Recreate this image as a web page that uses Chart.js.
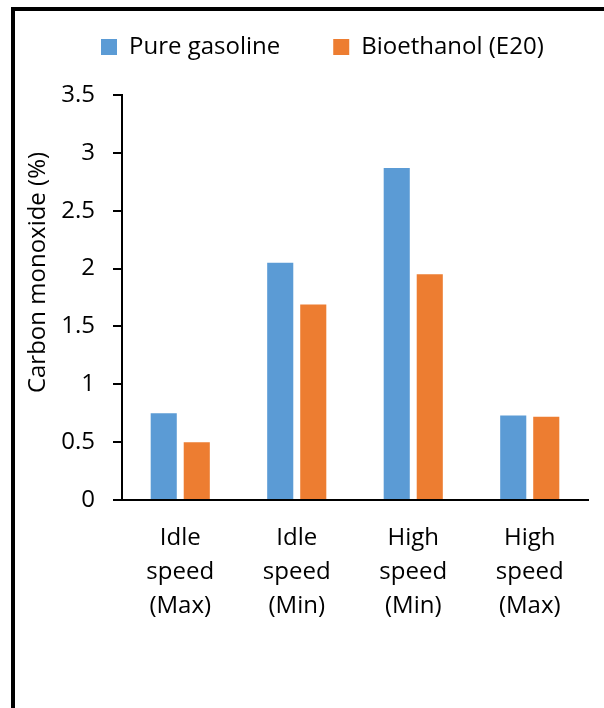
<!DOCTYPE html>
<html>
<head>
<meta charset="utf-8">
<script src="https://cdn.jsdelivr.net/npm/chart.js@4.4.1/dist/chart.umd.min.js"></script>
<style>
  html, body { margin: 0; padding: 0; background: #ffffff; overflow: hidden; }
  #frame { position: absolute; left: 11px; top: 7px; width: 700px; height: 800px;
           border-left: 4px solid #000; border-top: 4px solid #000; box-sizing: border-box; }
  #wrap { position: absolute; left: 0; top: 0; width: 604px; height: 708px; }
</style>
</head>
<body>
<div id="frame"></div>
<div id="wrap"><canvas id="c" width="604" height="708"></canvas></div>
<script>
// ---- data ----
const categories = [
  ["Idle", "speed", "(Max)"],
  ["Idle", "speed", "(Min)"],
  ["High", "speed", "(Min)"],
  ["High", "speed", "(Max)"]
];
const seriesNames = ["Pure gasoline", "Bioethanol (E20)"];
const pureGasoline = [0.75, 2.05, 2.87, 0.73];
const bioethanolE20 = [0.50, 1.69, 1.95, 0.72];
const yTickValues = [0, 0.5, 1, 1.5, 2, 2.5, 3, 3.5];
const yTickLabels = ["0", "0.5", "1", "1.5", "2", "2.5", "3", "3.5"];
const yAxisTitle = "Carbon monoxide (%)";

// ---- styling ----
const FONT = "'Open Sans', 'Liberation Sans', sans-serif";
const FS = 24;
const BLUE = "#5B9BD5";
const ORANGE = "#ED7D31";
const PAD_RIGHT = 16;
const PLOT_TOP = 95;
const PLOT_LEFT = 122;
const PLOT_BOTTOM = 500;
const LEGEND_PAD = 53;
const LEGEND_FIRST_BOX_X = 101;
const LEGEND_CENTER_Y = 47;

const legendFitPlugin = {
  id: 'legendFit',
  beforeUpdate(chart) {
    const lg = chart.legend;
    if (lg && !lg._patched) {
      const orig = lg.fit;
      lg.fit = function () {
        const mw = this.maxWidth;
        this.maxWidth = 4000;
        orig.call(this);
        this.maxWidth = mw;
        this.width = mw;
        this.height = PLOT_TOP;
      };
      lg._patched = true;
    }
  },
  afterLayout(chart) {
    const lg = chart.legend;
    if (!lg) return;
    lg.left = LEGEND_FIRST_BOX_X - LEGEND_PAD;
    lg.right = chart.width;
    lg.width = lg.right - lg.left;
    lg.top = LEGEND_CENTER_Y - LEGEND_PAD - FS / 2;
    lg.bottom = lg.top + lg.height;
  }
};

const yTitlePlugin = {
  id: 'yTitle',
  afterDraw(chart) {
    const ctx = chart.ctx;
    const ca = chart.chartArea;
    ctx.save();
    ctx.translate(38, ca.top + (ca.bottom - ca.top) / 2 - 25);
    ctx.rotate(-Math.PI / 2);
    ctx.font = FS + "px " + FONT;
    ctx.fillStyle = "#000";
    ctx.textAlign = "center";
    ctx.textBaseline = "middle";
    ctx.fillText(yAxisTitle, 0, 0);
    ctx.restore();
  }
};

new Chart(document.getElementById('c'), {
  type: 'bar',
  data: {
    labels: categories,
    datasets: [
      { label: seriesNames[0], data: pureGasoline, backgroundColor: BLUE, borderWidth: 0,
        categoryPercentage: 0.567, barPercentage: 0.79 },
      { label: seriesNames[1], data: bioethanolE20, backgroundColor: ORANGE, borderWidth: 0,
        categoryPercentage: 0.567, barPercentage: 0.79 }
    ]
  },
  options: {
    responsive: false,
    animation: false,
    devicePixelRatio: 1,
    layout: { padding: { left: 0, right: PAD_RIGHT, top: 0, bottom: 0 } },
    plugins: {
      tooltip: { enabled: false },
      legend: {
        display: true,
        position: 'top',
        align: 'start',
        labels: {
          font: { family: FONT, size: FS },
          color: '#000',
          boxWidth: 16,
          boxHeight: 16,
          padding: LEGEND_PAD
        }
      }
    },
    scales: {
      x: {
        grid: { display: false, drawTicks: false },
        border: { display: true, color: '#000', width: 2 },
        ticks: {
          font: { family: FONT, size: FS, lineHeight: 34 / FS },
          color: '#000',
          padding: 21,
          maxRotation: 0,
          autoSkip: false
        },
        afterFit(scale) { scale.height = 708 - PLOT_BOTTOM; }
      },
      y: {
        min: 0,
        max: 3.5,
        afterBuildTicks(scale) { scale.ticks = yTickValues.map(v => ({ value: v })); },
        grid: { display: true, drawOnChartArea: false, drawTicks: true, tickLength: 9,
                color: '#000', lineWidth: 2 },
        border: { display: true, color: '#000', width: 2 },
        ticks: {
          font: { family: FONT, size: FS },
          color: '#000',
          padding: 18,
          callback(value) {
            const k = yTickValues.indexOf(value);
            return k >= 0 ? yTickLabels[k] : '';
          }
        },
        afterFit(scale) { scale.width = PLOT_LEFT; }
      }
    }
  },
  plugins: [legendFitPlugin, yTitlePlugin]
});
</script>
</body>
</html>
